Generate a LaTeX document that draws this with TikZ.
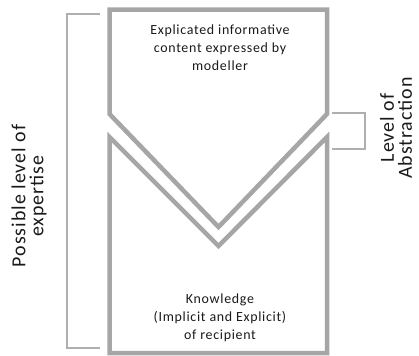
\documentclass[tikz,border=0pt]{standalone}
\usepackage{fontspec}
\setmainfont{Carlito}[LetterSpace=5]
\usetikzlibrary{positioning}
\definecolor{shapegray}{HTML}{A6A6A6}
\definecolor{brgray}{HTML}{AFAFAF}
\definecolor{txt}{HTML}{1A1A1A}
\tikzset{
  funnel/.style={draw=shapegray, line width=4.5bp, line join=miter, fill=white},
  brace/.style={draw=brgray, line width=1.5bp},
  boxtext/.style={align=center, text=txt, font=\fontsize{14}{18}\selectfont, inner sep=0pt},
  sidetext/.style={align=center, text=txt, rotate=90, font=\fontsize{20}{18}\selectfont, inner sep=0pt}
}
\begin{document}
\begin{tikzpicture}[x=1bp,y=-1bp]
\useasboundingbox (0,0) rectangle (419,356);
% funnel shapes
\draw[funnel] (109.5,9.5) coordinate (tl) -- (327,9.5) -- (327,114) coordinate (tr) -- (218.5,227) -- (109.5,114) -- cycle;
\draw[funnel] (109.5,137) -- (218.5,246) -- (327,137) coordinate (br) -- (327,353) -- (109.5,353) -- cycle;
% texts
\node[boxtext] (top) at (220,48) {Explicated informative\\content expressed by\\modeller};
\node[boxtext] (bot) at (220,318) {Knowledge\\(Implicit and Explicit)\\of recipient};
% left bracket
\coordinate (lb1) at (100,14);
\coordinate (lb2) at (100,348);
\draw[brace] (lb1) -- (67,14) -- (67,348) -- (lb2);
\node[sidetext] (expertise) at (29,196) {Possible level of\\expertise};
% right bracket
\coordinate (rb1) at (332,113);
\coordinate (rb2) at (332,149);
\draw[brace] (rb1) -- (365,113) -- (365,149) -- (rb2);
\node[sidetext] (abstraction) at (396,128) {Level of\\Abstraction};
\end{tikzpicture}
\end{document}
